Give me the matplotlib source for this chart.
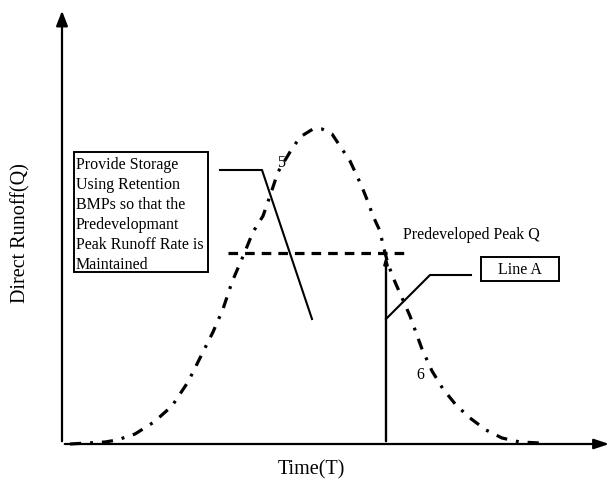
import matplotlib
matplotlib.use("Agg")
import matplotlib.pyplot as plt
from matplotlib.patches import Rectangle

plt.rcParams['font.family'] = ['Liberation Serif', 'DejaVu Serif']

# hydrograph (arbitrary units)
time_t = [0.16, 0.86, 1.10, 1.46, 1.84, 2.20, 2.52, 2.78, 3.02, 3.22, 3.40, 3.64,
          3.82, 4.02, 4.16, 4.32, 4.56, 4.76, 5.02, 5.20, 5.40, 5.60, 5.76, 5.90,
          6.00, 6.12, 6.22, 6.36, 6.42, 6.52, 6.66, 6.96, 7.20, 7.40, 7.62, 7.88,
          8.16, 8.48, 8.80, 9.16, 9.56]
runoff_q = [0.0, 0.04, 0.08, 0.20, 0.44, 0.76, 1.24, 1.76, 2.24, 2.70, 3.24, 3.80,
            4.24, 4.56, 4.96, 5.44, 5.84, 6.14, 6.30, 6.30, 6.20, 5.90, 5.66, 5.36,
            5.14, 4.84, 4.56, 4.26, 3.98, 3.60, 3.24, 2.56, 1.90, 1.46, 1.10, 0.78,
            0.52, 0.28, 0.12, 0.04, 0.02]

peak_q = 3.82
peak_span = [3.32, 6.96]
line_a_t = 6.48

box_lines = ["Provide Storage", "Using Retention", "BMPs so that the",
             "Predevelopmant", "Peak Runoff Rate is", "Maintained"]

fig = plt.figure(figsize=(6.12, 4.85), dpi=100)
ax = fig.add_axes([0, 0, 1, 1])
ax.set_xlim(-1.24, 11.0)
ax.set_ylim(-0.8, 8.9)
ax.axis('off')

# axes with arrows
ax.annotate("", xy=(0, 8.72), xytext=(0, 0),
            arrowprops=dict(arrowstyle="-|>,head_width=0.35,head_length=0.9",
                            color="black", lw=1.6))
ax.annotate("", xy=(11.0, 0), xytext=(0, 0),
            arrowprops=dict(arrowstyle="-|>,head_width=0.3,head_length=0.9",
                            color="black", lw=1.6))

# runoff curve
ax.plot(time_t, runoff_q, color="black", lw=2.3,
        linestyle=(0, (3.5, 2.8, 0.9, 2.8)), solid_capstyle="butt")

# predeveloped peak
ax.plot(peak_span, [peak_q, peak_q], color="black", lw=2.3,
        linestyle=(0, (3, 2.2)))
ax.annotate("", xy=(line_a_t, peak_q), xytext=(line_a_t, 0),
            arrowprops=dict(arrowstyle="-|>,head_width=0.12,head_length=0.4",
                            color="black", lw=1.7))
ax.text(6.82, 4.2, "Predeveloped Peak Q", fontsize=11.5, va="center", ha="left")

# storage note box
ax.add_patch(Rectangle((0.24, 3.44), 2.68, 2.40, fill=False, lw=1.4, ec="black"))
for i, line in enumerate(box_lines):
    ax.text(0.28, 5.6 - i * 0.4, line, fontsize=11.5, va="center", ha="left")
ax.plot([3.16, 4.0, 5.0], [5.48, 5.48, 2.5], color="black", lw=1.5)

# Line A label
ax.add_patch(Rectangle((8.38, 3.26), 1.56, 0.48, fill=False, lw=1.4, ec="black"))
ax.text(9.16, 3.5, "Line A", fontsize=11.5, va="center", ha="center")
ax.plot([8.18, 7.36, line_a_t], [3.38, 3.38, 2.5], color="black", lw=1.5)

ax.text(4.38, 5.64, "5", fontsize=11.5, va="center", ha="center")
ax.text(7.16, 1.40, "6", fontsize=11.5, va="center", ha="center")

fig.text(21 / 612, 1 - 233 / 485, "Direct Runoff(Q)", rotation=90,
         fontsize=14.5, va="center", ha="center")
fig.text(311 / 612, 1 - 470 / 485, "Time(T)", fontsize=14.5,
         va="center", ha="center")

fig.savefig("out.png", dpi=100)
